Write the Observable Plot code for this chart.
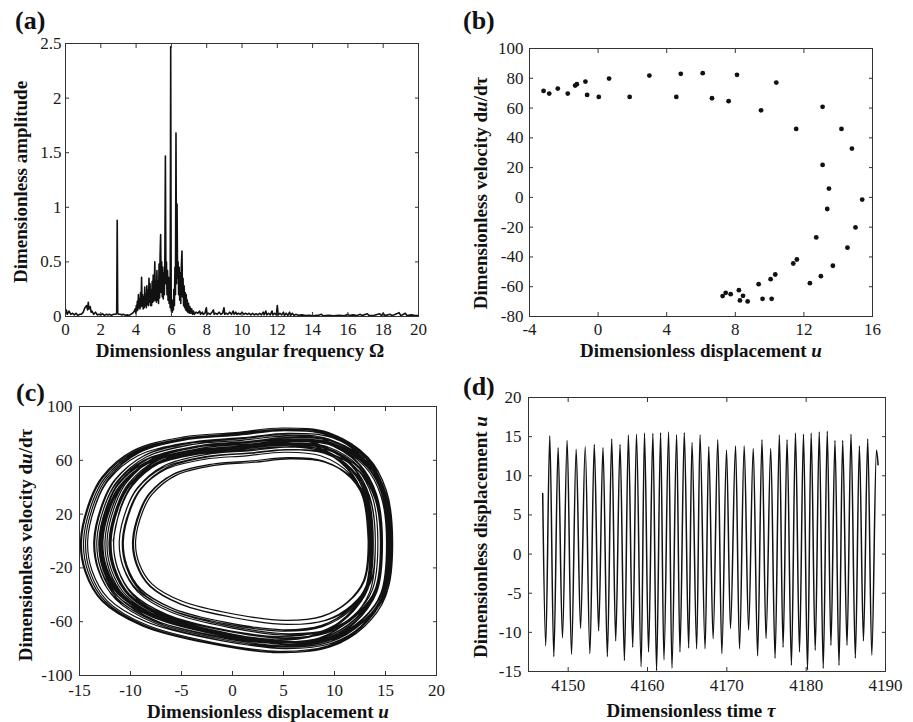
<!DOCTYPE html>
<html>
<head>
<meta charset="utf-8">
<script src="https://cdn.jsdelivr.net/npm/d3@7"></script>
<script src="https://cdn.jsdelivr.net/npm/@observablehq/plot@0.6"></script>
<style>
  body { margin: 0; background: #fff; }
  #fig { position: relative; width: 913px; height: 722px; font-family: 'Liberation Serif', 'Times New Roman', serif; color: #111; overflow: hidden; }
  .panel { position: absolute; }
  .tag { position: absolute; font-weight: bold; font-size: 26px; line-height: 1; transform: translate(0, -50%); }
  .xt, .yt { position: absolute; font-weight: bold; font-size: 19px; line-height: 1; white-space: nowrap; }
  .xt { transform: translate(-50%, -50%); }
  .yt { transform: translate(-50%, -50%) rotate(-90deg); }
</style>
</head>
<body>
<div id="fig"></div>
<script>
// ---------- (a) amplitude spectrum: [Ω, amplitude] ----------
const spectrum = [
  [0,0.03],[0.05,0.06],[0.1,0.02],[0.2,0.05],[0.3,0.02],[0.4,0.03],[0.5,0.015],[0.6,0.03],[0.7,0.01],[0.8,0.02],
  [0.9,0.02],[1.0,0.04],[1.1,0.08],[1.2,0.1],[1.25,0.06],[1.29,0.13],[1.33,0.07],[1.4,0.09],[1.45,0.04],[1.5,0.05],
  [1.6,0.02],[1.7,0.04],[1.8,0.015],[1.9,0.02],[2.0,0.015],[2.1,0.025],[2.2,0.01],[2.3,0.02],[2.4,0.015],[2.5,0.02],
  [2.6,0.01],[2.7,0.02],[2.85,0.02],[2.9,0.03],[2.93,0.88],[2.96,0.03],[3.0,0.02],[3.1,0.02],[3.2,0.015],[3.3,0.02],
  [3.4,0.01],[3.5,0.015],[3.6,0.01],[3.7,0.02],[3.8,0.03],[3.9,0.05],
  [3.95,0.07],[3.98,0.03],[4.01,0.1],[4.04,0.05],[4.07,0.14],[4.1,0.06],[4.13,0.2],[4.16,0.08],[4.19,0.16],[4.22,0.07],
  [4.25,0.22],[4.28,0.09],[4.31,0.36],[4.34,0.1],[4.37,0.2],[4.4,0.07],[4.43,0.18],[4.46,0.08],[4.49,0.27],[4.52,0.1],
  [4.55,0.2],[4.58,0.08],[4.61,0.28],[4.64,0.11],[4.67,0.24],[4.7,0.1],[4.73,0.35],[4.76,0.13],[4.79,0.3],[4.82,0.1],
  [4.85,0.24],[4.88,0.1],[4.91,0.32],[4.94,0.13],[4.97,0.38],[5.0,0.14],[5.03,0.28],[5.06,0.5],[5.09,0.15],[5.12,0.32],
  [5.15,0.13],[5.18,0.42],[5.21,0.15],[5.24,0.32],[5.27,0.12],[5.3,0.48],[5.33,0.17],[5.36,0.56],[5.39,0.75],[5.42,0.22],
  [5.45,0.5],[5.48,0.18],[5.51,0.45],[5.54,0.16],[5.57,0.4],[5.6,0.2],[5.63,0.55],[5.66,1.47],[5.69,0.3],[5.72,0.5],
  [5.75,0.2],[5.78,0.42],[5.81,0.15],[5.84,0.36],[5.87,0.12],[5.9,0.3],[5.93,0.08],[5.96,2.47],[5.99,0.05],[6.02,0.12],
  [6.05,0.04],[6.08,0.15],[6.11,0.06],[6.14,0.25],[6.17,0.1],[6.2,0.45],[6.23,0.2],[6.26,1.68],[6.29,0.3],[6.32,1.03],
  [6.35,0.35],[6.38,0.5],[6.41,0.2],[6.44,0.45],[6.47,0.15],[6.5,0.4],[6.53,0.12],[6.56,0.45],[6.6,0.6],[6.63,0.18],
  [6.66,0.35],[6.69,0.1],[6.72,0.28],[6.75,0.08],[6.78,0.22],[6.81,0.06],[6.84,0.2],[6.87,0.05],[6.9,0.15],[6.93,0.04],
  [6.97,0.12],[7.01,0.03],[7.05,0.09],[7.1,0.03],[7.15,0.07],[7.2,0.02],[7.25,0.05],[7.3,0.02],[7.4,0.04],
  [7.5,0.03],[7.6,0.05],[7.65,0.02],[7.75,0.04],[7.8,0.02],[7.9,0.03],[7.98,0.08],[8.02,0.02],[8.1,0.03],[8.2,0.02],
  [8.3,0.04],[8.38,0.06],[8.42,0.02],[8.5,0.03],[8.6,0.02],[8.7,0.04],[8.8,0.02],[8.9,0.03],[8.98,0.08],[9.02,0.02],
  [9.1,0.03],[9.2,0.02],[9.3,0.04],[9.4,0.02],[9.5,0.05],[9.55,0.02],[9.65,0.04],[9.7,0.02],[9.8,0.03],[9.9,0.02],
  [10.0,0.04],[10.1,0.02],[10.2,0.03],[10.3,0.02],[10.4,0.03],[10.5,0.015],[10.6,0.03],[10.7,0.015],[10.8,0.025],[10.9,0.015],
  [11.0,0.03],[11.1,0.015],[11.2,0.04],[11.25,0.015],[11.35,0.05],[11.4,0.015],[11.5,0.03],[11.6,0.015],[11.7,0.05],[11.75,0.015],
  [11.85,0.03],[11.95,0.015],[12.0,0.1],[12.05,0.015],[12.15,0.03],[12.25,0.015],[12.35,0.04],[12.4,0.01],[12.5,0.03],[12.6,0.01],
  [12.7,0.04],[12.75,0.01],[12.85,0.03],[12.95,0.01],[13.05,0.02],[13.2,0.01],[13.4,0.015],[13.6,0.008],[13.8,0.01],[14.0,0.006],
  [14.3,0.01],[14.5,0.02],[14.6,0.006],[14.9,0.01],[15.2,0.006],[15.5,0.012],[15.8,0.006],[16.0,0.02],[16.1,0.008],[16.3,0.015],
  [16.5,0.008],[16.7,0.02],[16.8,0.008],[17.1,0.025],[17.2,0.008],[17.5,0.012],[17.8,0.025],[17.9,0.008],[18.0,0.03],[18.1,0.008],
  [18.4,0.02],[18.5,0.008],[18.9,0.035],[19.0,0.008],[19.25,0.03],[19.35,0.008],[19.6,0.015],[19.8,0.008],[20,0.01]
];

// ---------- (b) Poincaré section: displacement u, velocity du/dτ ----------
const poincareU = [-3.18,-2.85,-2.35,-1.77,-1.34,-1.24,-0.74,-0.64,0.04,0.64,1.84,2.99,4.56,4.82,6.10,6.64,7.61,8.10,
  9.50,10.39,11.55,13.09,14.19,14.80,13.09,13.46,15.40,13.36,15.01,12.72,14.54,13.69,11.38,11.59,12.99,12.35,10.33,10.06,
  9.36,9.59,10.12,8.21,8.27,8.45,8.72,7.26,7.44,7.73];
const poincareV = [71.5,69.7,73.1,69.7,75.1,76.0,77.8,68.8,67.5,79.8,67.5,81.8,67.5,83.0,83.4,66.6,64.6,82.3,
  58.5,77.1,46.0,60.8,46.0,32.8,21.8,5.9,-1.5,-7.8,-20.2,-26.9,-33.8,-45.9,-44.4,-41.7,-52.9,-57.6,-51.8,-54.9,
  -58.3,-68.1,-68.1,-62.3,-69.2,-66.1,-69.9,-66.3,-64.1,-65.0];

// ---------- (d) time history: successive troughs and peaks of u ----------
const startTime = 4146.79, startDisp = 7.75;
const endTime = 4189.07, endDisp = 11.4;
const troughTime = [4147.17,4148.19,4149.28,4150.42,4151.56,4152.74,4153.84,4154.94,4155.99,4157.09,
  4158.14,4159.20,4160.13,4161.14,4162.07,4163.08,4164.09,4165.19,4166.20,4167.26,
  4168.27,4169.37,4170.46,4171.60,4172.74,4173.88,4174.94,4176.08,4177.09,4178.14,
  4179.16,4180.17,4181.14,4182.15,4183.12,4184.14,4185.15,4186.20,4187.22,4188.27];
const troughDisp = [-11.7,-13.1,-10.7,-12.8,-9.5,-12.7,-9.8,-13.1,-11.1,-13.6,
  -11.9,-14.4,-12.5,-14.9,-13.5,-14.6,-12.5,-12.0,-12.1,-12.1,
  -10.8,-12.7,-9.5,-12.1,-9.7,-13.0,-10.8,-13.3,-11.9,-14.2,
  -12.5,-14.8,-12.3,-14.6,-11.65,-14.2,-11.65,-13.3,-11.1,-12.9];
const peakTime = [4147.68,4148.73,4149.87,4151.01,4152.15,4153.29,4154.39,4155.49,4156.54,4157.59,
  4158.61,4159.62,4160.68,4161.65,4162.66,4163.67,4164.64,4165.61,4166.62,4167.72,
  4168.86,4169.96,4171.10,4172.19,4173.33,4174.43,4175.53,4176.62,4177.59,4178.65,
  4179.66,4180.63,4181.65,4182.66,4183.63,4184.60,4185.65,4186.71,4187.76,4188.86];
const peakDisp = [15.1,13.6,14.5,13.4,13.7,14.0,13.6,14.7,14.0,15.2,
  15.3,15.45,15.4,15.5,15.6,15.25,15.5,14.25,15.25,13.7,
  14.6,13.3,13.8,13.8,13.5,14.6,13.5,15.2,14.6,15.45,
  15.3,15.45,15.6,15.7,14.5,14.5,15.3,13.8,14.7,13.3];

// ---------- (c) phase trajectory: velocity extremes of each half swing ----------
// upper half (trough -> peak) and lower half (peak -> next trough)
const velTop = [74,73,68,72,61,73,62,76,68,79,75,82,77,84,80,82,77,72,75,70,
  68,72,61,71,62,76,66,78,73,82,76,83,77,83,72,79,74,75,70,72];
const velBottom = [-78,-66,-75,-59,-73,-62,-73,-70,-76,-75,-82,-77,-83,-80,-83,-76,-76,-72,-75,-66,
  -75,-59,-71,-62,-73,-69,-74,-75,-79,-77,-83,-76,-83,-75,-79,-72,-79,-67,-76];
// outline of a half swing: [fraction of the way across, fraction of the velocity extreme]
const riseShape = [[0,0],[0.03,0.36],[0.07,0.57],[0.17,0.8],[0.33,0.92],[0.5,0.96],[0.65,1],[0.8,0.96],[0.92,0.75],[0.98,0.45]];
const fallShape = [[0,0],[0.02,0.5],[0.09,0.77],[0.2,0.95],[0.36,1],[0.58,0.92],[0.8,0.76],[0.93,0.54],[0.985,0.28]];

// ---------- tick values ----------
const ticksAx = [0,2,4,6,8,10,12,14,16,18,20];
const ticksAy = [0,0.5,1,1.5,2,2.5];
const ticksBx = [-4,0,4,8,12,16];
const ticksBy = [-80,-60,-40,-20,0,20,40,60,80,100];
const ticksCx = [-15,-10,-5,0,5,10,15,20];
const ticksCy = [-100,-60,-20,20,60,100];
const ticksDx = [4150,4160,4170,4180,4190];
const ticksDy = [-15,-10,-5,0,5,10,15,20];

// ---------- tables for the marks ----------
const poincare = poincareU.map((u, i) => ({u, v: poincareV[i]}));

const wave = [{t: startTime, u: startDisp}];
troughTime.forEach((t, k) => {
  wave.push({t, u: troughDisp[k]});
  wave.push({t: peakTime[k], u: peakDisp[k]});
});
wave.push({t: endTime, u: endDisp});

const orbit = [];
troughDisp.forEach((lo, k) => {
  const hi = peakDisp[k];
  riseShape.forEach(([s, f]) => orbit.push({u: lo + s * (hi - lo), v: f * velTop[k]}));
  if (k < velBottom.length) {
    const next = troughDisp[k + 1];
    fallShape.forEach(([s, f]) => orbit.push({u: hi + s * (next - hi), v: f * velBottom[k]}));
  }
});
orbit.push({u: peakDisp[peakDisp.length - 1], v: 0});

// ---------- shared styling ----------
const fmt = d => String(d);
const style = {fontFamily: "'Liberation Serif', 'Times New Roman', serif", fontSize: "17px", color: "#1a1a1a", background: "transparent", overflow: "visible"};

function boxAxes(xt, yt, padX, padY) {
  return [
    Plot.axisX(xt, {anchor: "bottom", tickSize: -4, fill: "none", label: null, stroke: "#333"}),
    Plot.axisX(xt, {anchor: "top", tickSize: -4, fill: "none", label: null, stroke: "#333"}),
    Plot.axisY(yt, {anchor: "left", tickSize: -4, fill: "none", label: null, stroke: "#333"}),
    Plot.axisY(yt, {anchor: "right", tickSize: -4, fill: "none", label: null, stroke: "#333"}),
    Plot.axisX(xt, {anchor: "bottom", tickSize: 0, tickPadding: padX, tickFormat: fmt, label: null}),
    Plot.axisY(yt, {anchor: "left", tickSize: 0, tickPadding: padY, tickFormat: fmt, label: null}),
    Plot.frame({stroke: "#333", strokeWidth: 1})
  ];
}

const fig = document.getElementById("fig");
function place(node, left, top) {
  const wrap = document.createElement("div");
  wrap.className = "panel";
  wrap.style.left = left + "px";
  wrap.style.top = top + "px";
  wrap.appendChild(node);
  fig.appendChild(wrap);
}
function text(cls, html, x, y) {
  const el = document.createElement("div");
  el.className = cls;
  el.innerHTML = html;
  el.style.left = x + "px";
  el.style.top = y + "px";
  fig.appendChild(el);
}

// (a) spectrum
place(Plot.plot({
  width: 440, height: 340, marginLeft: 65, marginRight: 22, marginTop: 43, marginBottom: 24,
  x: {domain: [0, 20]}, y: {domain: [0, 2.5]}, style,
  marks: [
    Plot.line(spectrum, {x: d => d[0], y: d => d[1], stroke: "#111", strokeWidth: 1.6, clip: true}),
    ...boxAxes(ticksAx, ticksAy, 6, 4)
  ]
}), 0, 0);

// (b) Poincaré map
place(Plot.plot({
  width: 460, height: 340, marginLeft: 79, marginRight: 38, marginTop: 48, marginBottom: 24,
  x: {domain: [-4, 16]}, y: {domain: [-80, 100]}, style,
  marks: [
    Plot.dot(poincare, {x: "u", y: "v", r: 2.4, fill: "#111", stroke: null}),
    ...boxAxes(ticksBx, ticksBy, 6, 6)
  ]
}), 450, 0);

// (c) phase portrait
place(Plot.plot({
  width: 450, height: 340, marginLeft: 79, marginRight: 14, marginTop: 46, marginBottom: 25,
  x: {domain: [-15, 20]}, y: {domain: [-100, 100]}, style,
  marks: [
    Plot.line(orbit, {x: "u", y: "v", curve: "catmull-rom", stroke: "#111", strokeWidth: 1.2, clip: true}),
    ...boxAxes(ticksCx, ticksCy, 8, 7)
  ]
}), 0, 360);

// (d) time history
place(Plot.plot({
  width: 460, height: 340, marginLeft: 78, marginRight: 25, marginTop: 37, marginBottom: 29,
  x: {domain: [4145, 4190]}, y: {domain: [-15, 20]}, style,
  marks: [
    Plot.line(wave, {x: "t", y: "u", curve: "monotone-x", stroke: "#111", strokeWidth: 1.5, clip: true}),
    ...boxAxes(ticksDx, ticksDy, 7, 7)
  ]
}), 450, 360);

// panel tags and axis titles
text("tag", "(a)", 15, 21);
text("tag", "(b)", 463, 21);
text("tag", "(c)", 16, 393);
text("tag", "(d)", 463, 387);

text("xt", "Dimensionless angular frequency Ω", 240, 350);
text("yt", "Dimensionless amplitude", 20, 182);
text("xt", "Dimensionless displacement <i>u</i>", 701, 350);
text("yt", "Dimensionless velocity d<i>u</i>/dτ", 480, 193);
text("xt", "Dimensionless displacement <i>u</i>", 268, 711);
text("yt", "Dimensionless velocity d<i>u</i>/dτ", 25, 545);
text("xt", "Dimensionless time <i>τ</i>", 691, 710);
text("yt", "Dimensionless displacement <i>u</i>", 480, 537);
</script>
</body>
</html>
